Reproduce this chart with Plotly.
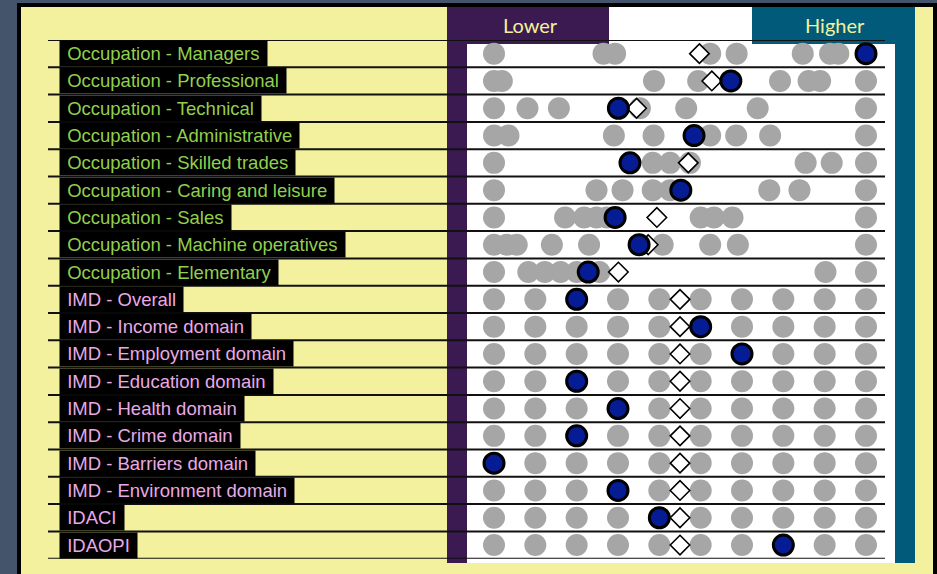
import plotly.graph_objects as go

# ---------------- data ----------------
categories = [
    "Occupation - Managers", "Occupation - Professional", "Occupation - Technical",
    "Occupation - Administrative", "Occupation - Skilled trades", "Occupation - Caring and leisure",
    "Occupation - Sales", "Occupation - Machine operatives", "Occupation - Elementary",
    "IMD - Overall", "IMD - Income domain", "IMD - Employment domain", "IMD - Education domain",
    "IMD - Health domain", "IMD - Crime domain", "IMD - Barriers domain",
    "IMD - Environment domain", "IDACI", "IDAOPI",
]

# comparator (grey) values per row
managers = [1.0, 3.65, 3.93, 6.23, 6.87, 8.47, 9.13, 9.33, 10.0]
professional = [1.0, 1.19, 4.87, 5.94, 7.92, 8.61, 8.89, 10.0]
technical = [1.0, 1.81, 2.57, 4.53, 5.65, 7.38, 10.0]
administrative = [1.0, 1.35, 3.90, 4.86, 6.23, 6.86, 7.68, 10.0]
skilled_trades = [1.0, 4.84, 5.26, 5.74, 8.54, 9.17, 10.0]
caring_leisure = [1.0, 3.48, 4.11, 4.84, 5.26, 7.66, 8.39, 10.0]
sales = [1.0, 2.72, 3.18, 3.48, 3.73, 6.0, 6.32, 6.77, 10.0]
machine_operatives = [1.0, 1.31, 1.55, 2.40, 3.30, 5.08, 6.23, 6.90, 10.0]
elementary = [1.0, 1.83, 2.23, 2.61, 3.0, 3.55, 9.02, 10.0]
imd_deciles = [1, 2, 3, 4, 5, 6, 7, 8, 9, 10]

comparators = [managers, professional, technical, administrative, skilled_trades,
               caring_leisure, sales, machine_operatives, elementary] + [imd_deciles] * 10

# selected area (blue) and average (diamond)
area_values = [10.0, 6.73, 4.01, 5.84, 4.29, 5.52, 3.93, 4.51, 3.28,
               3, 6, 7, 3, 4, 3, 1, 4, 5, 8]
average_values = [5.97, 6.27, 4.45, 5.84, 5.70, 5.52, 4.94, 4.73, 4.01,
                  5.5, 5.5, 5.5, 5.5, 5.5, 5.5, 5.5, 5.5, 5.5, 5.5]

header_labels = ["Lower", "Higher"]
bottom_ticks = ["100", "150", "200", "250", "300"]

# ---------------- styling / layout ----------------
W, H = 937, 574
def px(x):
    return x / W
def py(y):
    return 1 - y / H

YELLOW = "#F3F19D"
PURPLE = "#3A1A50"
TEAL = "#015A79"
SLATE = "#44546A"
GREEN = "#92CF4C"
PINK = "#EAA9E6"

n = len(categories)
row_top, row_bot = 40.0, 558.7
unit = (866 - 494) / 9.0
x0 = 1 - (494 - 467) / unit
x1 = 10 + (895 - 866) / unit

gx, gy = [], []
for i, vals in enumerate(comparators):
    for v in vals:
        gx.append(v)
        gy.append(i)

fig = go.Figure()
fig.add_trace(go.Scatter(
    x=gx, y=gy, mode="markers", hoverinfo="skip",
    marker=dict(size=22, color="#A6A6A6", line=dict(width=0)), showlegend=False))
fig.add_trace(go.Scatter(
    x=average_values, y=list(range(n)), mode="markers", hoverinfo="skip",
    marker=dict(symbol="diamond", size=15, color="white", line=dict(width=1.6, color="black")),
    showlegend=False))
fig.add_trace(go.Scatter(
    x=area_values, y=list(range(n)), mode="markers", hoverinfo="skip",
    marker=dict(size=20, color="#061C94", line=dict(width=3, color="black")),
    showlegend=False))

shapes = []
def rect(xa, ya, xb, yb, color):
    shapes.append(dict(type="rect", xref="paper", yref="paper", layer="below",
                       x0=px(xa), x1=px(xb), y0=py(yb), y1=py(ya),
                       fillcolor=color, line=dict(width=0)))

rect(17, 3, 937, 574, "black")
rect(21, 7, 933, 574, YELLOW)
rect(447, 7, 609, 563, PURPLE)
rect(752, 7, 915, 563, TEAL)
rect(609, 7, 752, 44, "white")
rect(467, 44, 895, 563, "white")

for k in range(n + 1):
    shapes.append(dict(type="line", xref="paper", yref="y", layer="below",
                       x0=px(48), x1=px(885), y0=k - 0.5, y1=k - 0.5,
                       line=dict(color="#111111", width=2)))

annotations = []
for i, c in enumerate(categories):
    col = GREEN if c.startswith("Occupation") else PINK
    annotations.append(dict(
        x=px(59), xref="paper", xanchor="left", y=i, yref="y", yanchor="middle",
        text="\u00a0" + c + "\u00a0", showarrow=False, bgcolor="black", borderpad=2,
        font=dict(family="Arial, Liberation Sans, sans-serif", size=18.5, color=col)))

annotations.append(dict(x=px(530), y=py(25), xref="paper", yref="paper", text=header_labels[0],
                        yanchor="middle", xanchor="center", showarrow=False,
                        font=dict(family="Lato", size=20, color=YELLOW)))
annotations.append(dict(x=px(835), y=py(25), xref="paper", yref="paper", text=header_labels[1],
                        yanchor="middle", xanchor="center", showarrow=False,
                        font=dict(family="Lato", size=20, color=YELLOW)))

for j, t in enumerate(bottom_ticks):
    annotations.append(dict(x=px(48 + j * 187.5), y=py(568), xref="paper", yref="paper",
                            yanchor="top", text=t, showarrow=False,
                            font=dict(family="Arial, Liberation Sans, sans-serif", size=15,
                                      color="#7F7F7F")))

fig.update_layout(
    width=W, height=H, margin=dict(l=0, r=0, t=0, b=0),
    paper_bgcolor=SLATE, plot_bgcolor="rgba(0,0,0,0)",
    xaxis=dict(domain=[px(467), px(895)], range=[x0, x1], visible=False,
               showgrid=False, zeroline=False, fixedrange=True),
    yaxis=dict(domain=[py(row_bot), py(row_top)], range=[n - 0.5, -0.5], visible=False,
               showgrid=False, zeroline=False, fixedrange=True),
    shapes=shapes, annotations=annotations, showlegend=False,
)

fig.write_html("out.html", config={"displayModeBar": False},
               post_script="document.body.style.margin='0px';document.body.style.overflow='hidden';")
